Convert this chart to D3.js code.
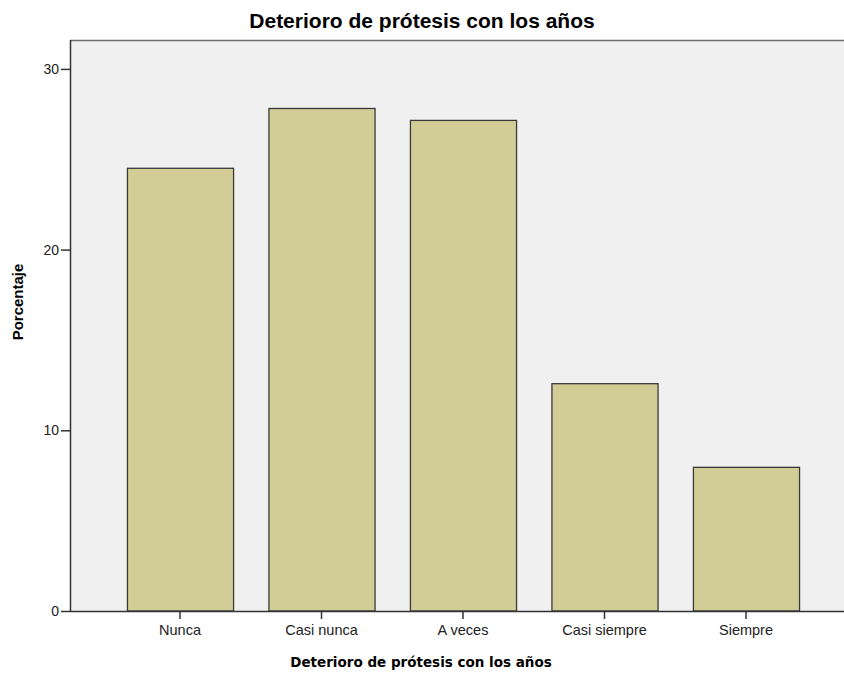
<!DOCTYPE html>
<html>
<head>
<meta charset="utf-8">
<script src="https://cdn.jsdelivr.net/npm/d3@7/dist/d3.min.js"></script>
<style>
  html, body { margin: 0; padding: 0; background: #ffffff; }
  svg { display: block; }
</style>
</head>
<body>
<svg id="chart" width="844" height="673"></svg>
<script>
// Frecuencias relativas (%) por categoría
const categories = ["Nunca", "Casi nunca", "A veces", "Casi siempre", "Siempre"];
const percentages = [24.50, 27.81, 27.15, 12.58, 7.95];
const yTicks = [0, 10, 20, 30];
const chartTitle = "Deterioro de prótesis con los años";
const xTitle = "Deterioro de prótesis con los años";
const yTitle = "Porcentaje";

const svg = d3.select("#chart");
const plot = { left: 70, top: 40, right: 856, bottom: 611 };

const x = d3.scaleBand()
  .domain(categories)
  .range([plot.left, plot.right])
  .paddingInner(0.25)
  .paddingOuter(0.4025);

const y = d3.scaleLinear()
  .domain([0, 31.6])
  .range([plot.bottom, plot.top]);

// Fondo del área de datos
svg.append("rect")
  .attr("x", plot.left)
  .attr("y", plot.top)
  .attr("width", plot.right - plot.left)
  .attr("height", plot.bottom - plot.top)
  .attr("fill", "#f0f0f0")
  .attr("stroke", "none");

// Borde superior
svg.append("line")
  .attr("x1", plot.left).attr("x2", plot.right)
  .attr("y1", plot.top + 0.5).attr("y2", plot.top + 0.5)
  .attr("stroke", "#6e6e6e")
  .attr("stroke-width", 1.5);

// Barras
svg.append("g")
  .selectAll("rect")
  .data(categories)
  .join("rect")
  .attr("x", d => x(d) + 0.5)
  .attr("y", (d, i) => y(percentages[i]))
  .attr("width", x.bandwidth())
  .attr("height", (d, i) => y(0) - y(percentages[i]))
  .attr("fill", "#d2cd96")
  .attr("stroke", "#3a3a3a")
  .attr("stroke-width", 1.3);

// Eje Y
const yAxis = svg.append("g")
  .attr("transform", `translate(${plot.left},0)`)
  .call(d3.axisLeft(y).tickValues(yTicks).tickSize(9).tickPadding(2).tickFormat(d3.format("d")));
yAxis.select(".domain")
  .attr("d", `M0.5,${plot.top}V${plot.bottom}`)
  .attr("stroke", "#333")
  .attr("stroke-width", 1.5);
yAxis.selectAll(".tick line").attr("stroke", "#333").attr("stroke-width", 1.5);
yAxis.selectAll(".tick text")
  .attr("font-family", "Liberation Sans, Arial, sans-serif")
  .attr("font-size", 14)
  .attr("fill", "#222");

// Eje X
const xAxis = svg.append("g")
  .attr("transform", `translate(0,${plot.bottom})`)
  .call(d3.axisBottom(x).tickSize(8).tickPadding(6));
xAxis.select(".domain")
  .attr("d", `M${plot.left},0.5H${plot.right}`)
  .attr("stroke", "#333")
  .attr("stroke-width", 1.5);
xAxis.selectAll(".tick line").attr("stroke", "#333").attr("stroke-width", 1.5);
xAxis.selectAll(".tick text")
  .attr("font-family", "Liberation Sans, Arial, sans-serif")
  .attr("font-size", 14.5)
  .attr("fill", "#222");

// Títulos
svg.append("text")
  .attr("x", 422)
  .attr("y", 28)
  .attr("text-anchor", "middle")
  .attr("font-family", "Liberation Sans, Arial, sans-serif")
  .attr("font-weight", "bold")
  .attr("font-size", 21)
  .attr("fill", "#000")
  .text(chartTitle);

svg.append("text")
  .attr("x", 421)
  .attr("y", 667)
  .attr("text-anchor", "middle")
  .attr("font-family", "DejaVu Sans, Verdana, sans-serif")
  .attr("font-weight", "bold")
  .attr("font-size", 13.5)
  .attr("fill", "#000")
  .text(xTitle);

svg.append("text")
  .attr("transform", "translate(23,302) rotate(-90)")
  .attr("text-anchor", "middle")
  .attr("font-family", "Liberation Sans, Arial, sans-serif")
  .attr("font-weight", "bold")
  .attr("font-size", 15)
  .attr("fill", "#000")
  .text(yTitle);
</script>
</body>
</html>
